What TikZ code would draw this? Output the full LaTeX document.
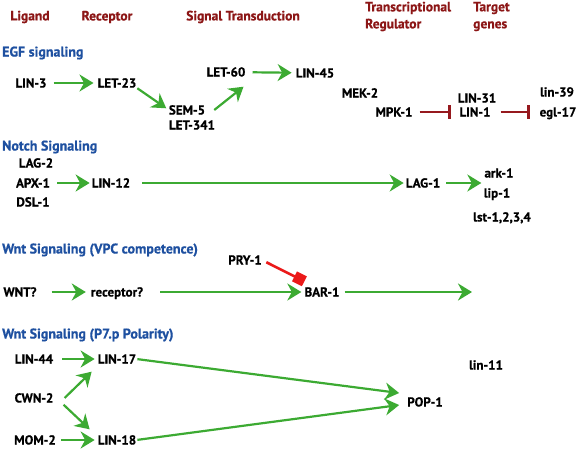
\documentclass[tikz,border=0pt]{standalone}
\usepackage{fontspec}
\setmainfont{PT Sans}[BoldFeatures={FakeBold=0.7}]
\usetikzlibrary{arrows.meta}
\definecolor{grn}{RGB}{60,170,50}
\definecolor{inhred}{RGB}{150,25,30}
\definecolor{hdrred}{RGB}{140,22,22}
\definecolor{ttlblue}{RGB}{30,80,160}
\definecolor{brightred}{RGB}{235,25,25}
\begin{document}
\begin{tikzpicture}[x=1pt,y=-1pt,
  lbl/.style={font=\bfseries\fontsize{13}{15}\selectfont, inner sep=0pt, text height=9pt, text depth=0pt},
  hdr/.style={font=\bfseries\fontsize{13.5}{17}\selectfont, text=hdrred, inner sep=0pt, align=left},
  ttl/.style={font=\bfseries\fontsize{14}{16}\selectfont, text=ttlblue, inner sep=0pt, anchor=west},
  ga/.style={draw=grn, line width=2.2pt, -{Stealth[length=14pt,width=17pt,inset=4.5pt]}, shorten <=7pt, shorten >=4pt},
  ia/.style={draw=inhred, line width=2.4pt, -{Bar[width=14pt,line width=3.2pt]}},
  ra/.style={draw=brightred, line width=2.6pt, -{Square[length=11pt,width=11pt]}}]
\useasboundingbox (0,0) rectangle (580,452);
% headers
\node[hdr] (hLig) at (30,17) {Ligand};
\node[hdr] (hRec) at (107,17) {Receptor};
\node[hdr] (hSig) at (243,17) {Signal Transduction};
\node[hdr,anchor=west] (hTR) at (365,16.5) {Transcriptional\\Regulator};
\node[hdr,anchor=west] (hTG) at (473,16.5) {Target\\genes};
% titles
\node[ttl] (tEGF) at (2,53) {EGF signaling};
\node[ttl] (tN) at (2,147) {Notch Signaling};
\node[ttl] (tW1) at (2,250) {Wnt Signaling (VPC competence)};
\node[ttl] (tW2) at (2,335) {Wnt Signaling (P7.p Polarity)};
% EGF
\node[lbl] (lin3) at (31,83) {LIN-3};
\node[lbl] (let23) at (117,83) {LET-23};
\node[lbl] (sem5) at (187,110) {SEM-5};
\node[lbl] (let341) at (192,125) {LET-341};
\node[lbl] (let60) at (226,72) {LET-60};
\node[lbl] (lin45) at (315,73) {LIN-45};
\node[lbl] (mek2) at (360,93) {MEK-2};
\node[lbl] (mpk1) at (394,112) {MPK-1};
\node[lbl] (lin31) at (477,98) {LIN-31};
\node[lbl] (lin1) at (475,112) {LIN-1};
\node[lbl] (lin39) at (557,92) {lin-39};
\node[lbl] (egl17) at (558,112) {egl-17};
\draw[ga] (lin3) -- (let23);
\draw[ga, shorten <=1pt, shorten >=3pt] (let23.south east) -- (sem5.west);
\draw[ga, shorten <=0pt, shorten >=0pt] ([xshift=9pt]sem5.east) -- ([xshift=-2pt,yshift=-10pt]let60.south east);
\draw[ga] (let60) -- (lin45);
\draw[ia, shorten <=7pt, shorten >=8pt] (mpk1) -- (lin1);
\draw[ia, shorten <=10pt, shorten >=9pt] (lin1) -- (egl17);
% Notch
\node[lbl] (lag2) at (36,163) {LAG-2};
\node[lbl] (apx1) at (33,183) {APX-1};
\node[lbl] (dsl1) at (33,202) {DSL-1};
\node[lbl] (lin12) at (111,183) {LIN-12};
\node[lbl] (lag1) at (423,183) {LAG-1};
\node[lbl] (ark1) at (499,173) {ark-1};
\node[lbl] (lip1) at (497,193) {lip-1};
\node[lbl] (lst) at (502,217) {lst-1,2,3,4};
\draw[ga, shorten >=2pt] (apx1) -- (lin12);
\draw[ga, shorten <=12pt, shorten >=2pt] (lin12) -- (lag1);
\draw[ga, shorten <=6pt, shorten >=3pt] (lag1.east) -- (lag1.east -| ark1.west);
% Wnt VPC
\node[lbl] (pry1) at (245,260) {PRY-1};
\node[lbl] (wnt) at (20,292) {WNT?};
\node[lbl] (rec) at (117,292) {receptor?};
\node[lbl] (bar1) at (322,292) {BAR-1};
\coordinate (vpcend) at (472,292);
\draw[ga, shorten <=15pt, shorten >=5pt] (wnt) -- (rec);
\draw[ga, shorten <=17pt, shorten >=3pt] (rec) -- (bar1);
\draw[ga, shorten <=5pt, shorten >=0pt] (bar1.east) -- (vpcend);
\draw[ra, shorten <=5pt] (pry1.east) -- ([yshift=6pt]bar1.north west);
% Wnt P7.p
\node[lbl] (lin44) at (34,359) {LIN-44};
\node[lbl] (lin17) at (117,359) {LIN-17};
\node[lbl] (cwn2) at (34,398) {CWN-2};
\node[lbl] (mom2) at (35,440) {MOM-2};
\node[lbl] (lin18) at (117,440) {LIN-18};
\node[lbl] (pop1) at (425,402) {POP-1};
\node[lbl] (lin11) at (486,365) {lin-11};
\draw[ga, shorten <=9pt, shorten >=3pt] (lin44) -- (lin17);
\draw[ga, shorten <=0pt, shorten >=0pt] ([xshift=11pt]cwn2.east) -- ([xshift=-6pt,yshift=-8pt]lin17.south west);
\draw[ga, shorten <=0pt, shorten >=0pt] ([xshift=10pt,yshift=-2pt]cwn2.south east) -- ([xshift=-8pt,yshift=6pt]lin18.north west);
\draw[ga, shorten <=5pt, shorten >=3pt] (mom2) -- (lin18);
\draw[ga, shorten <=1pt, shorten >=0pt] (lin17.east) -- ([xshift=-8pt,yshift=9pt]pop1.west);
\draw[ga, shorten <=1pt, shorten >=0pt] (lin18.east) -- ([xshift=-8pt,yshift=-3pt]pop1.west);
\end{tikzpicture}
\end{document}
